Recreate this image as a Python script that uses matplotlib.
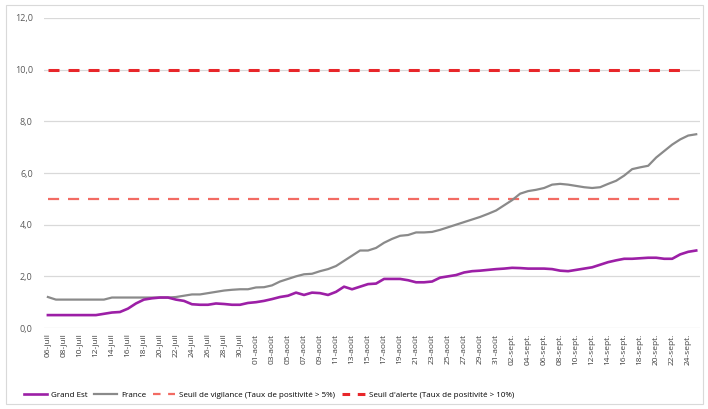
import matplotlib.pyplot as plt
import numpy as np
import pandas as pd
from matplotlib.lines import Line2D
from matplotlib.patches import Rectangle

# Taux de positivité (%) - du 06 juillet au 25 septembre
start_date = "2020-07-06"
grand_est = [
    0.5, 0.5, 0.5, 0.5, 0.5, 0.5, 0.5, 0.55, 0.6, 0.62,
    0.75, 0.95, 1.1, 1.15, 1.18, 1.18, 1.1, 1.05, 0.92, 0.9,
    0.9, 0.95, 0.93, 0.9, 0.9, 0.97, 1.0, 1.05, 1.12, 1.2,
    1.25, 1.37, 1.28, 1.37, 1.35, 1.28, 1.4, 1.6, 1.5, 1.6,
    1.7, 1.72, 1.9, 1.9, 1.9, 1.85, 1.77, 1.77, 1.8, 1.95,
    2.0, 2.05, 2.15, 2.2, 2.22, 2.25, 2.28, 2.3, 2.33, 2.32,
    2.3, 2.3, 2.3, 2.28, 2.22, 2.2, 2.25, 2.3, 2.35, 2.45,
    2.55, 2.62, 2.68, 2.68, 2.7, 2.72, 2.72, 2.68, 2.68, 2.85,
    2.95, 3.0,
]
france = [
    1.2, 1.1, 1.1, 1.1, 1.1, 1.1, 1.1, 1.1, 1.18, 1.18,
    1.18, 1.18, 1.18, 1.18, 1.18, 1.18, 1.2, 1.25, 1.3, 1.3,
    1.35, 1.4, 1.45, 1.48, 1.5, 1.5, 1.57, 1.58, 1.65, 1.8,
    1.9, 2.0, 2.08, 2.1, 2.2, 2.28, 2.4, 2.6, 2.8, 3.0,
    3.0, 3.1, 3.3, 3.45, 3.57, 3.6, 3.7, 3.7, 3.72, 3.8,
    3.9, 4.0, 4.1, 4.2, 4.3, 4.42, 4.55, 4.75, 4.95, 5.2,
    5.3, 5.35, 5.42, 5.55, 5.58, 5.55, 5.5, 5.45, 5.42, 5.45,
    5.58, 5.7, 5.9, 6.15, 6.22, 6.28, 6.6, 6.85, 7.1, 7.3,
    7.45, 7.5,
]
seuil_vigilance = [5.0] * 80
seuil_alerte = [10.0] * 80

noms = ["Grand Est", "France",
        "Seuil de vigilance (Taux de positivité > 5%)",
        "Seuil d'alerte (Taux de positivité > 10%)"]
mois = {7: "juil", 8: "août", 9: "sept."}

dates = pd.date_range(start_date, periods=len(grand_est), freq="D")
labels = [f"{d.day:02d}-{mois[d.month]}" for d in dates]
x = np.arange(len(dates))

plt.rcParams["font.family"] = ["Open Sans", "DejaVu Sans"]

fig = plt.figure(figsize=(7.08, 4.09), dpi=100)
ax = fig.add_axes([0.062, 0.198, 0.927, 0.758])

# cadre extérieur
fig.patches.append(Rectangle((0.008, 0.012), 0.985, 0.975, transform=fig.transFigure,
                             fill=False, edgecolor="#D9D9D9", linewidth=0.8))

c_ge, c_fr, c_vig, c_al = "#9C1FA6", "#8A8A8A", "#F26B63", "#E8262A"

ax.plot(x, grand_est, color=c_ge, lw=1.9, zorder=4)
ax.plot(x, france, color=c_fr, lw=1.6, zorder=3)
ax.plot(x[:len(seuil_vigilance)], seuil_vigilance, color=c_vig, lw=1.6,
        dashes=(5.0, 4.0), zorder=2)
ax.plot(x[:len(seuil_alerte)], seuil_alerte, color=c_al, lw=2.2,
        dashes=(3.6, 2.95), zorder=2)

ax.set_xlim(-0.5, len(x) - 0.5)
ax.set_ylim(0, 12)
ax.set_yticks(np.arange(0, 13, 2))
ax.set_yticklabels([f"{v:.1f}".replace(".", ",") for v in np.arange(0, 13, 2)],
                   fontsize=6.5, color="#595959")
ax.set_xticks(x[::2])
ax.set_xticklabels(labels[::2], rotation=90, fontsize=6, color="#404040")
ax.tick_params(axis="both", length=0, pad=4)
ax.tick_params(axis="y", pad=8)

ax.grid(axis="y", color="#D9D9D9", lw=0.9)
ax.set_axisbelow(True)
for s in ax.spines.values():
    s.set_visible(False)

# poignées de légende (deux tirets visibles pour les seuils)
handles = [
    Line2D([], [], color=c_ge, lw=1.9),
    Line2D([], [], color=c_fr, lw=1.6),
    Line2D([], [], color=c_vig, lw=1.6, dashes=(3.4, 3.4)),
    Line2D([], [], color=c_al, lw=2.2, dashes=(2.5, 2.5)),
]
fig.legend(handles, noms, loc="center", bbox_to_anchor=(0.38, 0.035), ncol=4,
           frameon=False, fontsize=5.8, handlelength=2.85, columnspacing=0.8,
           handletextpad=0.5)

fig.savefig("out.png", dpi=100)
